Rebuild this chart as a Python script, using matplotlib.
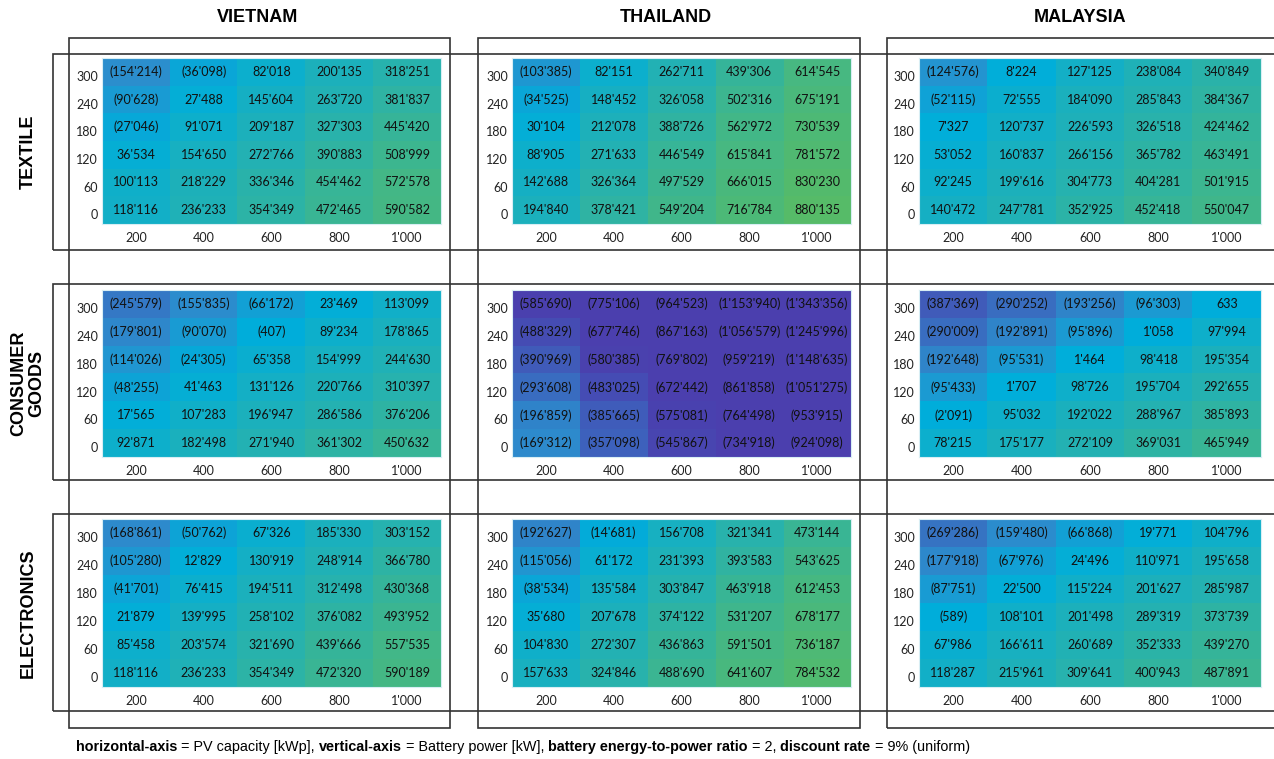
import numpy as np
import matplotlib
matplotlib.use("Agg")
import matplotlib.pyplot as plt
from matplotlib.colors import LinearSegmentedColormap, Normalize
from matplotlib.patches import Rectangle

# Axes categories
pv_capacity = [200, 400, 600, 800, 1000]        # kWp, left to right
battery_power = [300, 240, 180, 120, 60, 0]      # kW, top to bottom
countries = ["VIETNAM", "THAILAND", "MALAYSIA"]
sectors = ["TEXTILE", "CONSUMER\nGOODS", "ELECTRONICS"]

# NPV results, rows follow battery_power, columns follow pv_capacity
textile_vietnam = [
    [-154214, -36098, 82018, 200135, 318251],
    [-90628, 27488, 145604, 263720, 381837],
    [-27046, 91071, 209187, 327303, 445420],
    [36534, 154650, 272766, 390883, 508999],
    [100113, 218229, 336346, 454462, 572578],
    [118116, 236233, 354349, 472465, 590582],
]
textile_thailand = [
    [-103385, 82151, 262711, 439306, 614545],
    [-34525, 148452, 326058, 502316, 675191],
    [30104, 212078, 388726, 562972, 730539],
    [88905, 271633, 446549, 615841, 781572],
    [142688, 326364, 497529, 666015, 830230],
    [194840, 378421, 549204, 716784, 880135],
]
textile_malaysia = [
    [-124576, 8224, 127125, 238084, 340849],
    [-52115, 72555, 184090, 285843, 384367],
    [7327, 120737, 226593, 326518, 424462],
    [53052, 160837, 266156, 365782, 463491],
    [92245, 199616, 304773, 404281, 501915],
    [140472, 247781, 352925, 452418, 550047],
]
consumer_vietnam = [
    [-245579, -155835, -66172, 23469, 113099],
    [-179801, -90070, -407, 89234, 178865],
    [-114026, -24305, 65358, 154999, 244630],
    [-48255, 41463, 131126, 220766, 310397],
    [17565, 107283, 196947, 286586, 376206],
    [92871, 182498, 271940, 361302, 450632],
]
consumer_thailand = [
    [-585690, -775106, -964523, -1153940, -1343356],
    [-488329, -677746, -867163, -1056579, -1245996],
    [-390969, -580385, -769802, -959219, -1148635],
    [-293608, -483025, -672442, -861858, -1051275],
    [-196859, -385665, -575081, -764498, -953915],
    [-169312, -357098, -545867, -734918, -924098],
]
consumer_malaysia = [
    [-387369, -290252, -193256, -96303, 633],
    [-290009, -192891, -95896, 1058, 97994],
    [-192648, -95531, 1464, 98418, 195354],
    [-95433, 1707, 98726, 195704, 292655],
    [-2091, 95032, 192022, 288967, 385893],
    [78215, 175177, 272109, 369031, 465949],
]
electronics_vietnam = [
    [-168861, -50762, 67326, 185330, 303152],
    [-105280, 12829, 130919, 248914, 366780],
    [-41701, 76415, 194511, 312498, 430368],
    [21879, 139995, 258102, 376082, 493952],
    [85458, 203574, 321690, 439666, 557535],
    [118116, 236233, 354349, 472320, 590189],
]
electronics_thailand = [
    [-192627, -14681, 156708, 321341, 473144],
    [-115056, 61172, 231393, 393583, 543625],
    [-38534, 135584, 303847, 463918, 612453],
    [35680, 207678, 374122, 531207, 678177],
    [104830, 272307, 436863, 591501, 736187],
    [157633, 324846, 488690, 641607, 784532],
]
electronics_malaysia = [
    [-269286, -159480, -66868, 19771, 104796],
    [-177918, -67976, 24496, 110971, 195658],
    [-87751, 22500, 115224, 201627, 285987],
    [-589, 108101, 201498, 289319, 373739],
    [67986, 166611, 260689, 352333, 439270],
    [118287, 215961, 309641, 400943, 487891],
]

grids = [
    [textile_vietnam, textile_thailand, textile_malaysia],
    [consumer_vietnam, consumer_thailand, consumer_malaysia],
    [electronics_vietnam, electronics_thailand, electronics_malaysia],
]

# colour scale: purple for losses, cyan around break-even, green for gains
vmin, vmax = -600000, 880000
stops = [(-600000, "#4b3fae"), (-450000, "#4451b6"), (-300000, "#3a6cc0"),
         (-150000, "#2b8fce"), (0, "#00aedb"), (150000, "#17b0c2"),
         (300000, "#26b2b0"), (450000, "#37b598"), (600000, "#46b883"),
         (880000, "#56bb68")]
cmap = LinearSegmentedColormap.from_list(
    "npv", [((v - vmin) / (vmax - vmin), c) for v, c in stops])
norm = Normalize(vmin=vmin, vmax=vmax, clip=True)

W, H = 1274, 759
fig = plt.figure(figsize=(W / 100, H / 100), dpi=100)
num_font = ["Lato", "DejaVu Sans"]
title_font = ["Liberation Sans", "DejaVu Sans"]


def fmt(v):
    s = f"{abs(v):,}".replace(",", "'")
    return f"({s})" if v < 0 else s


def px_rect(x0, y0, x1, y1):
    # pixel box (top-left origin) -> figure fraction [l, b, w, h]
    return [x0 / W, 1 - y1 / H, (x1 - x0) / W, (y1 - y0) / H]


col_x = [(102, 441), (512, 851), (919, 1261)]
row_y = [(58, 224), (290, 457), (519, 687)]

for r, row in enumerate(grids):
    for c, data in enumerate(row):
        z = np.array(data)
        ax = fig.add_axes(px_rect(col_x[c][0], row_y[r][0], col_x[c][1], row_y[r][1]))
        ax.imshow(z, cmap=cmap, norm=norm, aspect="auto", interpolation="nearest")
        for i in range(z.shape[0]):
            for j in range(z.shape[1]):
                ax.text(j, i, fmt(z[i, j]), ha="center", va="center",
                        fontsize=9.0, color="#111111", family=num_font)
        ax.set_xticks(range(len(pv_capacity)))
        ax.set_xticklabels([fmt(p) for p in pv_capacity])
        ax.set_yticks(np.arange(len(battery_power)) + 0.15)
        ax.set_yticklabels(battery_power)
        ax.tick_params(length=0, labelsize=9.0, colors="#222222", pad=3)
        ax.tick_params(axis="x", pad=6)
        for lbl in ax.get_xticklabels() + ax.get_yticklabels():
            lbl.set_family(num_font)
        for sp in ax.spines.values():
            sp.set_color("#d8eef4")
            sp.set_linewidth(0.8)

# column and row frames
frame_kw = dict(fill=False, edgecolor="#333333", linewidth=1.2, transform=fig.transFigure)
for x0, x1 in [(69, 450), (478, 860), (887, 1290)]:
    l, b, w, h = px_rect(x0, 38, x1, 728)
    fig.add_artist(Rectangle((l, b), w, h, **frame_kw))
for y0, y1 in [(54, 250), (284, 480), (514, 711)]:
    l, b, w, h = px_rect(53, y0, 1290, y1)
    fig.add_artist(Rectangle((l, b), w, h, **frame_kw))

# country headers and sector labels
for name, xc in zip(countries, [258, 666, 1080]):
    fig.text(xc / W, 1 - 18 / H, name, ha="center", va="center",
             fontsize=13, fontweight="bold", family=title_font)
for name, yc in zip(sectors, [152, 383, 613]):
    fig.text(28 / W, 1 - yc / H, name, ha="center", va="center", rotation=90,
             fontsize=13, fontweight="bold", family=title_font, linespacing=1.1)

# caption with mixed weights
caption = [("horizontal-axis", True), (" = PV capacity [kWp], ", False),
           ("vertical-axis", True), (" = Battery power [kW], ", False),
           ("battery energy-to-power ratio", True), (" = 2, ", False),
           ("discount rate", True), (" = 9% (uniform)", False)]
renderer = fig.canvas.get_renderer()
x = 76
for txt, bold in caption:
    t = fig.text(x / W, 1 - 747 / H, txt, ha="left", va="center", fontsize=10.4,
                 fontweight="bold" if bold else "normal", family=title_font)
    x += t.get_window_extent(renderer).width

fig.savefig("out.png", dpi=100)
